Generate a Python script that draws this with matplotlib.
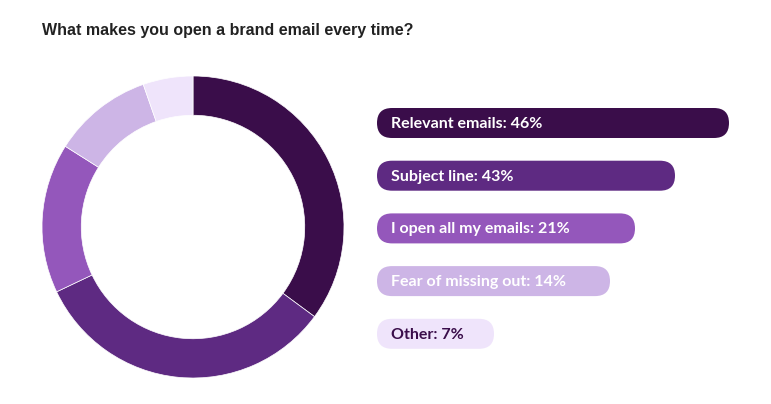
import matplotlib.pyplot as plt
from matplotlib.patches import FancyBboxPatch

labels = ["Relevant emails", "Subject line", "I open all my emails", "Fear of missing out", "Other"]
values = [46, 43, 21, 14, 7]
bar_lengths = [352, 298, 258, 233, 117]  # pill lengths in pixels
colors = ["#3a0d4a", "#5e2a82", "#9457bb", "#cdb5e6", "#efe4fb"]
text_colors = ["white", "white", "white", "white", "#3a0d4a"]

W, H = 771, 404
fig = plt.figure(figsize=(W/100, H/100), dpi=100)
fig.patch.set_facecolor("white")

fig.text(42/W, 1-31/H, "What makes you open a brand email every time?", fontsize=11.5,
         fontweight="bold", color="#222222", va="center", ha="left", family="Liberation Sans")

# donut
cx, cy, r = 193, 227, 151
ax = fig.add_axes([(cx-r)/W, 1-(cy+r)/H, 2*r/W, 2*r/H])
ax.pie(values, colors=colors, startangle=90, counterclock=False,
       wedgeprops=dict(width=0.26, edgecolor="white", linewidth=0.5))
ax.set_xlim(-1, 1); ax.set_ylim(-1, 1)
ax.set_aspect("equal")

# pills
bx = fig.add_axes([0, 0, 1, 1])
bx.set_xlim(0, W); bx.set_ylim(H, 0); bx.axis("off")
x0, y0, step, h = 377, 123, 52.7, 30
for i, (lab, v, L, c, tc) in enumerate(zip(labels, values, bar_lengths, colors, text_colors)):
    yc = y0 + i*step
    bx.add_patch(FancyBboxPatch((x0, yc - h/2), L, h,
                                boxstyle=f"round,pad=0,rounding_size={h/2}",
                                mutation_aspect=1, facecolor=c, edgecolor="none"))
    bx.text(x0 + 14, yc + 1, f"{lab}: {v}%", color=tc, fontsize=11.5, fontweight="bold",
            va="center", ha="left", family="Lato")

fig.savefig("out.png", dpi=100)
